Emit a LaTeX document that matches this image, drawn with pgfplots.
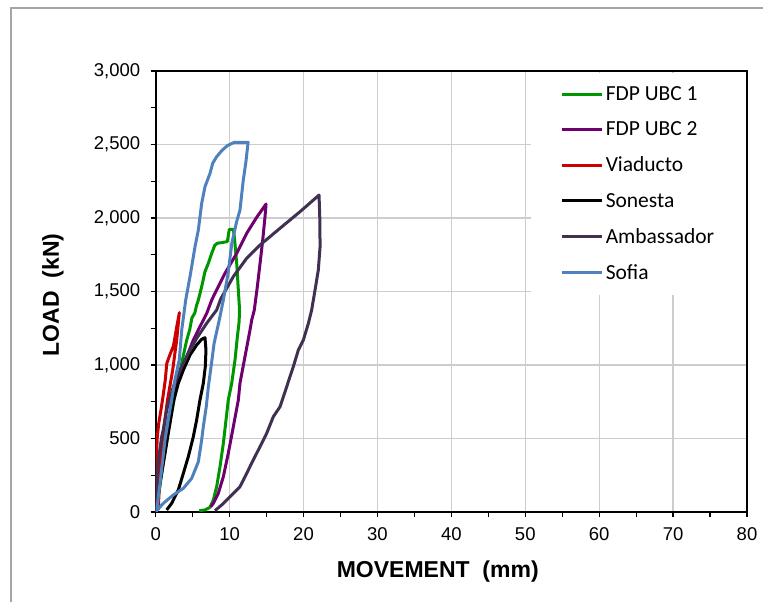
\documentclass[border=0pt]{standalone}
\usepackage{fontspec}
\setmainfont{Liberation Sans}
\newfontfamily\carlito{Carlito}
\usepackage{pgfplots}
\pgfplotsset{compat=1.18}

\definecolor{cUBCone}{RGB}{0,150,0}
\definecolor{cUBCtwo}{RGB}{112,0,112}
\definecolor{cViaducto}{RGB}{204,0,0}
\definecolor{cAmbassador}{RGB}{64,49,82}
\definecolor{cSofia}{RGB}{79,129,189}
\definecolor{gridgray}{RGB}{205,205,205}
\definecolor{framegray}{RGB}{165,165,165}

\begin{document}
\begin{tikzpicture}[x=1pt,y=1pt]
\useasboundingbox (0,0) rectangle (763,602);
\draw[framegray, line width=1.2pt] (11,0) -- (11,594) -- (763,594);
\begin{axis}[
    at={(155.7pt,90pt)}, anchor=south west,
    scale only axis,
    width=591.3pt, height=441pt,
    xmin=0, xmax=80,
    ymin=0, ymax=3000,
    xtick={0,10,...,80},
    ytick={0,500,...,3000},
    minor x tick num=1, minor y tick num=1,
    tick align=outside,
    xtick pos=bottom, ytick pos=left,
    major tick length=5pt, minor tick length=5pt,
    tick style={black, line width=1.2pt},
    grid=major,
    major grid style={gridgray, line width=1.2pt},
    axis line style={black, line width=1.6pt},
    ticklabel style={font=\fontsize{18.5}{21}\selectfont},
    xticklabel style={yshift=-7pt},
    yticklabel style={xshift=-7pt},
    /pgf/number format/assume math mode=true,
    xlabel={MOVEMENT\ \ (mm)},
    ylabel={LOAD\ \ (kN)},
    label style={font=\bfseries\fontsize{23}{27}\selectfont},
    xlabel style={at={(rel axis cs:0.477,-0.136)}, anchor=center},
    ylabel style={at={(rel axis cs:-0.1737,0.492)}, anchor=center},
    legend style={at={(rel axis cs:0.999,0.996)}, anchor=north east,
        draw=none, fill=white, inner xsep=30pt, inner ysep=12pt,
        row sep=15.6pt, font=\carlito\fontsize{21.5}{24}\selectfont},
    legend cell align=left,
    legend image code/.code={\draw[#1] (0pt,0pt) -- (40pt,0pt);},
    every axis plot/.append style={line width=3pt, line join=round, no markers},
]

% FDP UBC 1
\addplot[cUBCone] coordinates {
    (0,0) (0.5,150) (1.0,330) (1.6,520) (2.0,640) (2.48,762) (3.06,898)
    (3.61,1034) (4.2,1170) (4.6,1240) (4.9,1320) (5.3,1355) (5.5,1400)
    (5.77,1442) (6.22,1533) (6.67,1635) (7.12,1692) (7.58,1760) (8.0,1815)
    (8.34,1828) (9.69,1839) (9.96,1923) (10.5,1923) (10.64,1873)
    (10.96,1692) (11.18,1510) (11.32,1397) (11.3,1300) (11.05,1193)
    (10.73,1034) (10.28,875) (9.82,762) (9.5,620) (9.15,467) (8.7,308)
    (8.25,172) (7.8,82) (7.35,32) (6.67,14) (5.9,9)
};
\addlegendentry{FDP UBC 1}

% FDP UBC 2
\addplot[cUBCtwo] coordinates {
    (0,0) (0.6,250) (1.2,480) (1.8,650) (2.3,770) (2.84,852) (3.52,966)
    (4.2,1057) (5.09,1170) (5.99,1261) (6.9,1351) (7.58,1442) (8.02,1488)
    (9.38,1624) (10.96,1760) (12.31,1896) (13.67,2005) (14.93,2095)
    (14.79,2009) (14.48,1850) (14.12,1692) (13.75,1533) (13.34,1374)
    (12.99,1306) (12.76,1238) (12.08,1057) (11.4,875) (11.18,762)
    (10.5,580) (9.82,399) (9.15,240) (8.47,127) (7.8,59) (7.44,36)
};
\addlegendentry{FDP UBC 2}

% Viaducto
\addplot[cViaducto] coordinates {
    (0,0) (0.05,150) (0.1,350) (0.2,500) (0.4,600) (0.7,690) (1.0,790)
    (1.3,900) (1.5,1010) (1.85,1060) (2.4,1130) (2.85,1260) (3.2,1356)
    (2.84,1170) (2.3,966) (1.6,762) (1.0,535) (0.6,308) (0.35,14)
};
\addlegendentry{Viaducto}

% Sonesta
\addplot[black] coordinates {
    (0,0) (0.35,127) (0.81,263) (1.26,399) (1.7,535) (2.16,671) (2.45,762)
    (3.06,875) (3.74,966) (4.64,1068) (5.54,1136) (6.22,1175) (6.67,1186)
    (6.8,1102) (6.71,989) (6.44,875) (5.99,762) (5.54,626) (5.09,512)
    (4.41,376) (3.74,263) (3.06,150) (2.16,59) (1.49,14)
};
\addlegendentry{Sonesta}

% Ambassador
\addplot[cAmbassador] coordinates {
    (0,0) (0.1,170) (0.3,330) (0.58,430) (0.81,512) (1.03,560) (1.49,694)
    (2.38,852) (3.52,989) (4.41,1080) (5.54,1181) (6.9,1284) (8.25,1374)
    (8.8,1450) (10.5,1601) (12.31,1726) (14.11,1816) (16.82,1930)
    (19.53,2043) (22.1,2156) (22.2,2000) (22.24,1805) (22.0,1646)
    (21.56,1510) (21.1,1374) (20.66,1284) (19.98,1170) (19.3,1102)
    (18.62,989) (17.72,852) (16.82,716) (15.91,648) (15.01,535)
    (14.11,444) (13.2,354) (12.31,263) (11.4,172) (10.05,104) (8.93,48)
    (8.02,9)
};
\addlegendentry{Ambassador}

% Sofia
\addplot[cSofia] coordinates {
    (0.1,0) (0.58,195) (0.95,354) (1.26,490) (1.7,626) (2.16,762)
    (2.6,900) (3.19,1034) (3.52,1238) (4.06,1442) (4.64,1601) (5.32,1805)
    (5.77,1918) (6.22,2100) (6.67,2213) (7.35,2304) (7.71,2372)
    (8.25,2417) (8.93,2458) (9.69,2492) (10.64,2515) (12.5,2515)
    (12.2,2380) (11.85,2258) (11.4,2054) (10.95,1975) (10.3,1828)
    (9.8,1624) (9.15,1442) (8.6,1306) (7.9,1147) (7.49,989) (7.12,852)
    (6.85,720) (6.44,580) (6.22,490) (5.77,342) (4.87,229) (3.74,161)
    (2.38,116) (1.03,59) (0.22,14)
};
\addlegendentry{Sofia}

\end{axis}
\end{tikzpicture}
\end{document}
